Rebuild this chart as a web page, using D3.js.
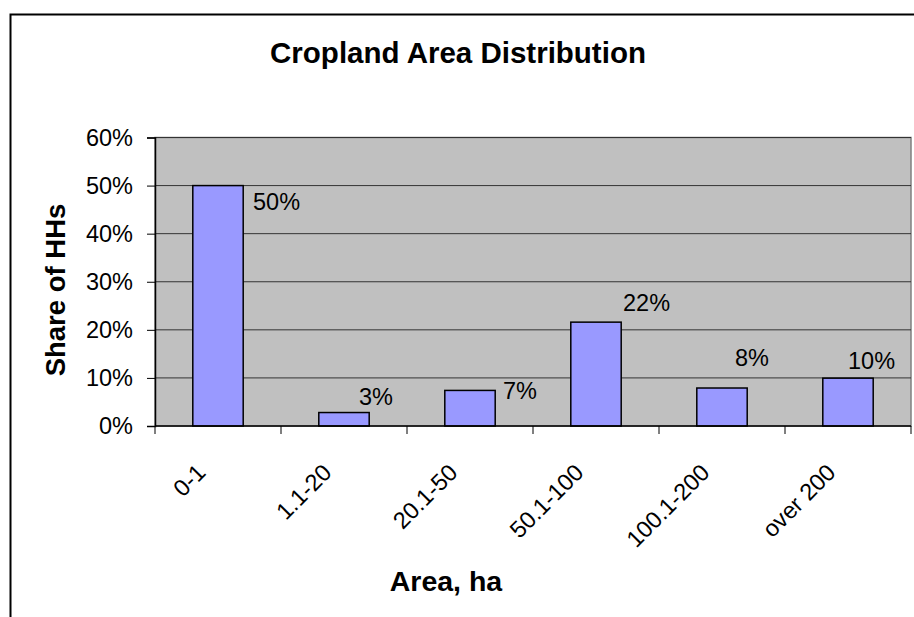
<!DOCTYPE html>
<html>
<head>
<meta charset="utf-8">
<script src="https://cdn.jsdelivr.net/npm/d3@7"></script>
<style>
  body { margin: 0; background: #fff; }
  svg { display: block; font-family: "Liberation Sans", Arial, sans-serif; }
</style>
</head>
<body>
<div id="chart"></div>
<script>
// Data
const categories = ["0-1", "1.1-20", "20.1-50", "50.1-100", "100.1-200", "over 200"];
const shares = [0.50, 0.028, 0.074, 0.216, 0.079, 0.0995];
const yTicks = [0, 0.1, 0.2, 0.3, 0.4, 0.5, 0.6];

// Where each value label sits: offset from bar centre / bar top
const labelNudge = [[35, 24], [15, -8], [33, 9], [27, -11], [13, -22], [0, -9]];

const width = 914;
const height = 617;
const plot = { left: 155, top: 137.5, right: 911, bottom: 426 };
const fontSize = "23.5px";

const svg = d3.select("#chart")
    .append("svg")
    .attr("width", width)
    .attr("height", height);

// outer chart frame (runs off the right and bottom edge)
svg.append("rect")
    .attr("x", 10.5).attr("y", 14.5)
    .attr("width", 940).attr("height", 640)
    .attr("fill", "#fff")
    .attr("stroke", "#000")
    .attr("stroke-width", 2);

const x = d3.scaleBand()
    .domain(categories)
    .range([plot.left, plot.right])
    .paddingInner(0.6)
    .paddingOuter(0.3);

const y = d3.scaleLinear()
    .domain([0, 0.6])
    .range([plot.bottom, plot.top]);

// plot background
svg.append("rect")
    .attr("x", plot.left).attr("y", plot.top)
    .attr("width", plot.right - plot.left)
    .attr("height", plot.bottom - plot.top)
    .attr("fill", "#c0c0c0")
    .attr("stroke", "#808080")
    .attr("stroke-width", 1.5);

// gridlines
svg.append("g")
    .selectAll("line")
    .data(yTicks.slice(1))
    .enter().append("line")
    .attr("x1", plot.left).attr("x2", plot.right)
    .attr("y1", d => y(d)).attr("y2", d => y(d))
    .attr("stroke", "#333")
    .attr("stroke-width", 1);

// bars
svg.append("g")
    .selectAll("rect")
    .data(shares)
    .enter().append("rect")
    .attr("x", (d, i) => x(categories[i]))
    .attr("y", d => y(d))
    .attr("width", x.bandwidth())
    .attr("height", d => plot.bottom - y(d))
    .attr("fill", "#9999ff")
    .attr("stroke", "#000")
    .attr("stroke-width", 1.5);

// value labels
const fmt = d3.format(".0%");
svg.append("g")
    .selectAll("text")
    .data(shares)
    .enter().append("text")
    .attr("x", (d, i) => x(categories[i]) + x.bandwidth() / 2 + labelNudge[i][0])
    .attr("y", (d, i) => y(d) + labelNudge[i][1])
    .attr("font-size", fontSize)
    .attr("fill", "#000")
    .text(d => fmt(d));

// y axis
const yAxis = svg.append("g")
    .attr("transform", `translate(${plot.left},0)`)
    .call(d3.axisLeft(y).tickValues(yTicks).tickFormat(d3.format(".0%")).tickSize(8).tickPadding(14));
yAxis.selectAll("text").attr("font-size", fontSize).attr("fill", "#000").attr("font-family", "Liberation Sans, Arial, sans-serif");
yAxis.select(".domain").attr("stroke", "#000").attr("stroke-width", 1.5);
yAxis.selectAll(".tick line").attr("stroke", "#000");

// x axis (ticks sit on the band edges)
const edges = d3.range(categories.length + 1).map(i => plot.left + i * x.step());
const xAxis = svg.append("g");
xAxis.append("line")
    .attr("x1", plot.left).attr("x2", plot.right)
    .attr("y1", plot.bottom).attr("y2", plot.bottom)
    .attr("stroke", "#000").attr("stroke-width", 1.5);
xAxis.selectAll("line.tick")
    .data(edges)
    .enter().append("line")
    .attr("class", "tick")
    .attr("x1", d => d).attr("x2", d => d)
    .attr("y1", plot.bottom).attr("y2", plot.bottom + 8)
    .attr("stroke", "#000");
xAxis.selectAll("text")
    .data(categories)
    .enter().append("text")
    .attr("transform", d => `translate(${x(d) + x.bandwidth() / 2 - 11},${plot.bottom + 48}) rotate(-45)`)
    .attr("text-anchor", "end")
    .attr("font-size", fontSize)
    .attr("fill", "#000")
    .text(d => d);

// titles
svg.append("text")
    .attr("x", 458).attr("y", 63)
    .attr("text-anchor", "middle")
    .attr("font-size", "29.5px")
    .attr("font-weight", "bold")
    .text("Cropland Area Distribution");

svg.append("text")
    .attr("x", 446).attr("y", 591)
    .attr("text-anchor", "middle")
    .attr("font-size", "28.5px")
    .attr("font-weight", "bold")
    .text("Area, ha");

svg.append("text")
    .attr("transform", `translate(65,290) rotate(-90)`)
    .attr("text-anchor", "middle")
    .attr("font-size", "27.5px")
    .attr("font-weight", "bold")
    .text("Share of HHs");
</script>
</body>
</html>
